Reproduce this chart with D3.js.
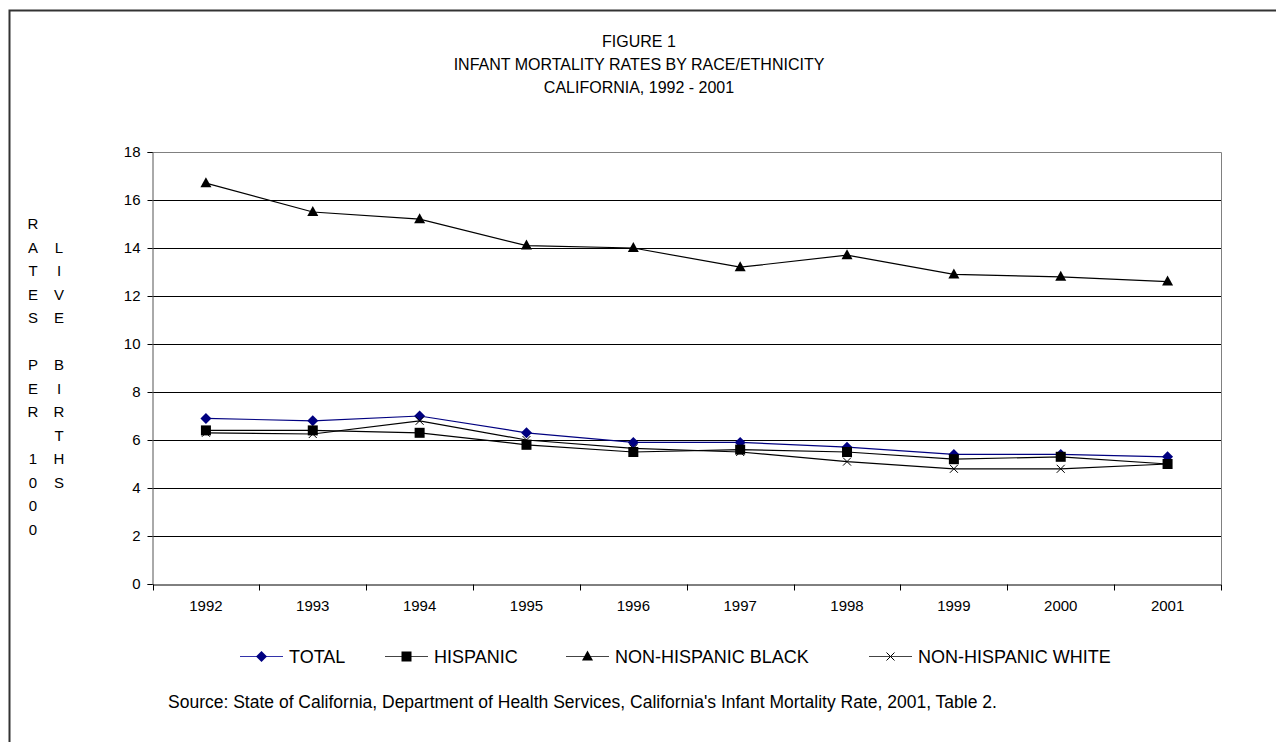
<!DOCTYPE html>
<meta charset="utf-8">
<style>
body { margin: 0; background: #fff; }
text { font-family: "Liberation Sans", Arial, Helvetica, sans-serif; fill: #000; }
.title { font-size: 16px; text-anchor: middle; }
.tick text { font-size: 15px; }
.ylab { font-size: 15px; text-anchor: middle; }
.legend text { font-size: 18px; }
.source { font-size: 17.5px; }
</style>
<svg width="1276" height="742"></svg>
<script src="https://d3js.org/d3.v7.min.js"></script>
<script>

var years = ["1992", "1993", "1994", "1995", "1996", "1997", "1998", "1999", "2000", "2001"];
var total = [6.9, 6.8, 7.0, 6.3, 5.9, 5.9, 5.7, 5.4, 5.4, 5.3];
var hispanic = [6.4, 6.4, 6.3, 5.8, 5.5, 5.6, 5.5, 5.2, 5.3, 5.0];
var nhBlack = [16.7, 15.5, 15.2, 14.1, 14.0, 13.2, 13.7, 12.9, 12.8, 12.6];
var nhWhite = [6.3, 6.25, 6.8, 6.0, 5.65, 5.5, 5.1, 4.8, 4.8, 5.0];
var seriesNames = ["TOTAL", "HISPANIC", "NON-HISPANIC BLACK", "NON-HISPANIC WHITE"];
var yTicks = [0, 2, 4, 6, 8, 10, 12, 14, 16, 18];
var titleLines = ["FIGURE 1", "INFANT MORTALITY RATES BY RACE/ETHNICITY", "CALIFORNIA, 1992 - 2001"];
var yLabelLeft = ["R", "A", "T", "E", "S", "", "P", "E", "R", "", "1", "0", "0", "0"];
var yLabelRight = ["", "L", "I", "V", "E", "", "B", "I", "R", "T", "H", "S"];
var sourceText = "Source: State of California, Department of Health Services, California's Infant Mortality Rate, 2001, Table 2.";

var series = [
  { name: seriesNames[0], values: total, color: "#000080", marker: "diamond" },
  { name: seriesNames[1], values: hispanic, color: "#000", marker: "square" },
  { name: seriesNames[2], values: nhBlack, color: "#000", marker: "triangle" },
  { name: seriesNames[3], values: nhWhite, color: "#000", marker: "cross" }
];

var svg = d3.select("svg");
var plotLeft = 152.5, plotRight = 1221, plotTop = 152, plotBottom = 584;

// outer frame (only top and left edges are inside the picture)
svg.append("path")
  .attr("d", "M9.5,742V10.5H1276")
  .attr("fill", "none")
  .attr("stroke", "#333")
  .attr("stroke-width", 2);

svg.selectAll(".title").data(titleLines).enter().append("text")
  .attr("class", "title")
  .attr("x", 639)
  .attr("y", function(d, i) { return 47 + i * 23; })
  .text(function(d) { return d; });

var x = d3.scaleBand().domain(years).range([plotLeft, plotRight]);
var y = d3.scaleLinear().domain([0, 18]).range([plotBottom, plotTop]);

// gridlines
svg.append("g").selectAll("line").data(yTicks.filter(function(d) { return d > 0 && d < 18; }))
  .enter().append("line")
  .attr("x1", plotLeft).attr("x2", plotRight)
  .attr("y1", function(d) { return Math.round(y(d)) + 0.5; })
  .attr("y2", function(d) { return Math.round(y(d)) + 0.5; })
  .attr("stroke", "#000");

// plot border top and right
svg.append("path")
  .attr("d", "M" + plotLeft + "," + (plotTop + 0.5) + "H" + (plotRight + 0.5) + "V" + plotBottom)
  .attr("fill", "none")
  .attr("stroke", "#808080");

var yAxis = svg.append("g")
  .attr("transform", "translate(" + plotLeft + ",0)")
  .call(d3.axisLeft(y).tickValues(yTicks).tickSize(5).tickPadding(7));
yAxis.select(".domain").attr("stroke", "#555");

var xAxis = svg.append("g")
  .attr("transform", "translate(0," + (plotBottom + 0.5) + ")")
  .call(d3.axisBottom(x).tickSize(0).tickPadding(16));
xAxis.select(".domain").attr("stroke", "#000");
// ticks at category boundaries
xAxis.selectAll(".bound").data(years.concat([""]))
  .enter().append("line")
  .attr("class", "bound")
  .attr("x1", function(d, i) { return Math.round(plotLeft + i * x.step()) + 0.5; })
  .attr("x2", function(d, i) { return Math.round(plotLeft + i * x.step()) + 0.5; })
  .attr("y1", 0).attr("y2", 6)
  .attr("stroke", "#000");

// y label columns
svg.selectAll(".yl").data(yLabelLeft).enter().append("text")
  .attr("class", "ylab")
  .attr("x", 33)
  .attr("y", function(d, i) { return 229 + i * 23.5; })
  .text(function(d) { return d; });
svg.selectAll(".yr").data(yLabelRight).enter().append("text")
  .attr("class", "ylab")
  .attr("x", 59)
  .attr("y", function(d, i) { return 229 + i * 23.5; })
  .text(function(d) { return d; });

function drawMarker(g, type, color) {
  if (type === "diamond") {
    g.append("path").attr("d", "M0,-5.5L5.5,0L0,5.5L-5.5,0Z").attr("fill", color);
  } else if (type === "square") {
    g.append("rect").attr("x", -5).attr("y", -5).attr("width", 10).attr("height", 10).attr("fill", color);
  } else if (type === "triangle") {
    g.append("path").attr("d", "M0,-6L5.5,4L-5.5,4Z").attr("fill", color);
  } else {
    g.append("path").attr("d", "M-4,-4L4,4M-4,4L4,-4").attr("stroke", color).attr("stroke-width", 1);
  }
}

var line = d3.line()
  .x(function(d, i) { return x(years[i]) + x.bandwidth() / 2; })
  .y(function(d) { return y(d); });

series.forEach(function(s) {
  svg.append("path")
    .datum(s.values)
    .attr("d", line)
    .attr("fill", "none")
    .attr("stroke", s.color)
    .attr("stroke-width", 1.2);
  s.values.forEach(function(v, i) {
    var g = svg.append("g")
      .attr("transform", "translate(" + (x(years[i]) + x.bandwidth() / 2) + "," + y(v) + ")");
    drawMarker(g, s.marker, s.color);
  });
});

// legend
var legendX = [240, 385, 566, 869];
var legend = svg.append("g").attr("class", "legend");
series.forEach(function(s, i) {
  var g = legend.append("g").attr("transform", "translate(" + legendX[i] + ",656)");
  g.append("line").attr("x1", 0).attr("x2", 43).attr("y1", 0.5).attr("y2", 0.5)
    .attr("stroke", s.color === "#000" ? "#444" : "#3333aa");
  var m = g.append("g").attr("transform", "translate(21.5,0.5)");
  drawMarker(m, s.marker, s.color);
  g.append("text").attr("x", 49).attr("y", 7).text(s.name);
});

svg.append("text")
  .attr("class", "source")
  .attr("x", 168)
  .attr("y", 708)
  .text(sourceText);

</script>
